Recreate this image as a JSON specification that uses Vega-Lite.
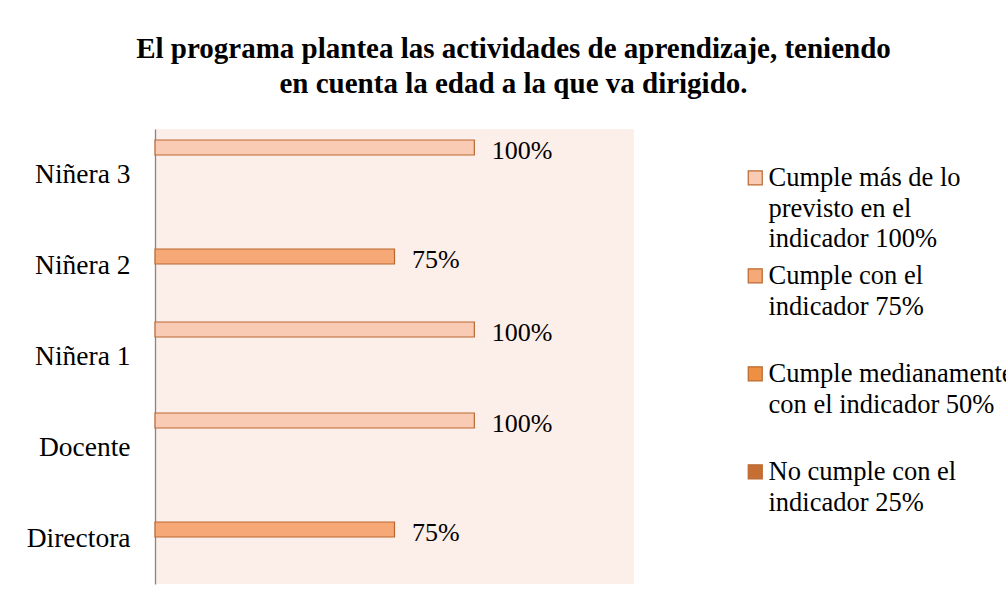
{
  "$schema": "https://vega.github.io/schema/vega-lite/v6.json",
  "width": 479,
  "height": 455,
  "autosize": {"type": "none"},
  "padding": {"left": 155, "top": 129, "right": 372, "bottom": 24},
  "background": "white",
  "title": {
    "text": ["El programa plantea las actividades de aprendizaje, teniendo", "en cuenta la edad a la que va dirigido."],
    "font": "'Liberation Serif', 'Times New Roman', serif",
    "fontSize": 29,
    "fontWeight": "bold",
    "color": "#000000",
    "anchor": "middle",
    "frame": "group",
    "dx": 119,
    "lineHeight": 35,
    "offset": 30
  },
  "data": {
    "values": [
      {"persona": "Niñera 3", "nivel": "Cumple más de lo previsto en el indicador 100%", "valor": 1.0},
      {"persona": "Niñera 2", "nivel": "Cumple con el indicador 75%", "valor": 0.75},
      {"persona": "Niñera 1", "nivel": "Cumple más de lo previsto en el indicador 100%", "valor": 1.0},
      {"persona": "Docente", "nivel": "Cumple más de lo previsto en el indicador 100%", "valor": 1.0},
      {"persona": "Directora", "nivel": "Cumple con el indicador 75%", "valor": 0.75}
    ]
  },
  "encoding": {
    "y": {
      "field": "persona",
      "type": "nominal",
      "sort": ["Niñera 3", "Niñera 2", "Niñera 1", "Docente", "Directora"],
      "scale": {"paddingInner": 0.242, "paddingOuter": 0.121},
      "axis": {
        "title": null,
        "ticks": false,
        "labelFont": "'Liberation Serif', 'Times New Roman', serif",
        "labelFontSize": 27.5,
        "labelColor": "#000000",
        "labelPadding": 25,
        "domainColor": "#868686",
        "domainWidth": 1.3,
        "grid": false
      }
    },
    "yOffset": {
      "field": "nivel",
      "type": "nominal",
      "sort": ["Cumple más de lo previsto en el indicador 100%", "Cumple con el indicador 75%", "Cumple medianamente con el indicador 50%", "No cumple con el indicador 25%"],
      "scale": {
        "domain": ["Cumple más de lo previsto en el indicador 100%", "Cumple con el indicador 75%", "Cumple medianamente con el indicador 50%", "No cumple con el indicador 25%"],
        "paddingInner": 0.167,
        "paddingOuter": 0
      }
    },
    "x": {
      "field": "valor",
      "type": "quantitative",
      "scale": {"domain": [0, 1.5], "nice": false},
      "axis": null
    }
  },
  "layer": [
    {
      "mark": {"type": "bar", "stroke": "#B9682F", "strokeWidth": 1.2},
      "encoding": {
        "color": {
          "field": "nivel",
          "type": "nominal",
          "scale": {
            "domain": ["Cumple más de lo previsto en el indicador 100%", "Cumple con el indicador 75%", "Cumple medianamente con el indicador 50%", "No cumple con el indicador 25%"],
            "range": ["#F9CBB5", "#F6A877", "#EE9044", "#C66E33"]
          },
          "legend": {
            "orient": "none",
            "legendX": 587,
            "legendY": 44,
            "title": null,
            "padding": 0,
            "labelFont": "'Liberation Serif', 'Times New Roman', serif",
            "labelFontSize": 26.5,
            "labelColor": "#000000",
            "labelLimit": 600,
            "labelBaseline": "alphabetic",
            "labelOffset": 0,
            "symbolType": "M-1,-2.2H1V-0.2H-1Z",
            "symbolSize": 196,
            "symbolStrokeColor": "#B9682F",
            "symbolStrokeWidth": 1.2,
            "rowPadding": 10,
            "labelExpr": "datum.label == 'Cumple más de lo previsto en el indicador 100%' ? ['Cumple más de lo', 'previsto en el', 'indicador 100%'] : datum.label == 'Cumple con el indicador 75%' ? ['Cumple con el', 'indicador 75%', ' '] : datum.label == 'Cumple medianamente con el indicador 50%' ? ['Cumple medianamente', 'con el indicador 50%', ' '] : ['No cumple con el', 'indicador 25%', ' ']"
          }
        }
      }
    },
    {
      "mark": {
        "type": "text",
        "align": "left",
        "baseline": "middle",
        "dx": 17.5,
        "dy": 3,
        "font": "'Liberation Serif', 'Times New Roman', serif",
        "fontSize": 26,
        "color": "#000000"
      },
      "encoding": {
        "text": {"field": "valor", "type": "quantitative", "format": ".0%"}
      }
    }
  ],
  "config": {
    "view": {"fill": "#FCEEE9", "stroke": null},
    "style": {"guide-label": {"lineHeight": 30.5}}
  }
}
